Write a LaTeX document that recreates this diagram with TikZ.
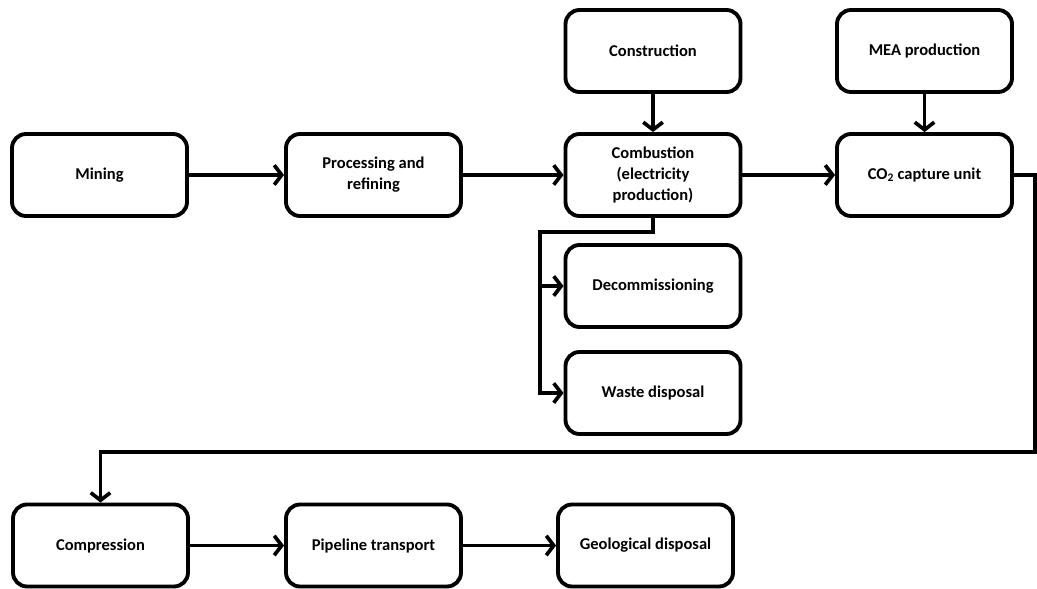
\documentclass[tikz,border=0pt]{standalone}
\usepackage{fontspec}
\setmainfont{Carlito}
\usetikzlibrary{arrows.meta, positioning, shadows}

\tikzset{
  stage/.style={draw, rounded corners=0.56cm, line width=4.4pt, minimum width=7cm,
    minimum height=3.28cm, align=center, fill=white,
    font=\fontsize{18.8}{24}\selectfont\bfseries,
    drop shadow={shadow xshift=0.06cm, shadow yshift=-0.06cm, opacity=0.25}},
  flow/.style={->, line width=4.2pt}
}

\begin{document}
\begin{tikzpicture}[>={Straight Barb[length=0.3cm,width=0.78cm,line width=4.2pt]}]

\useasboundingbox (0,0) rectangle (41.48,-23.56);

% main chain
\node[stage] (mining) at (3.98,-7.0) {Mining};
\node[stage] (refine) at (14.94,-7.0) {Processing and\\refining};
\node[stage] (comb) at (26.12,-7.0) {Combustion\\(electricity\\production)};
\node[stage] (capture) at (36.98,-7.0) {CO\textsubscript{2} capture unit};

% inputs from above
\node[stage] (constr) at (26.12,-2.04) {Construction};
\node[stage] (mea) at (36.98,-2.04) {MEA production};

% end of plant life
\node[stage] (decom) at (26.12,-11.44) {Decommissioning};
\node[stage] (waste) at (26.12,-15.72) {Waste disposal};

% storage chain
\node[stage] (compr) at (4.02,-21.82) {Compression};
\node[stage] (pipe) at (14.94,-21.82) {Pipeline transport};
\node[stage] (geo) at (25.82,-21.82) {Geological disposal};

\coordinate (split) at (21.6,-9.28);
\coordinate (turn) at (41.4,-18.08);

\draw[flow] (mining) -- (refine);
\draw[flow] (refine) -- (comb);
\draw[flow] (comb) -- (capture);
\draw[flow] (constr) -- (comb);
\draw[flow] (mea) -- (capture);

\draw[flow] (comb.south) |- (split) |- (waste.west);
\draw[flow] (split) |- (decom.west);

\draw[flow] (capture.east) -| (turn) -| (compr.north);
\draw[flow] (compr) -- (pipe);
\draw[flow] (pipe) -- (geo);

\end{tikzpicture}
\end{document}
